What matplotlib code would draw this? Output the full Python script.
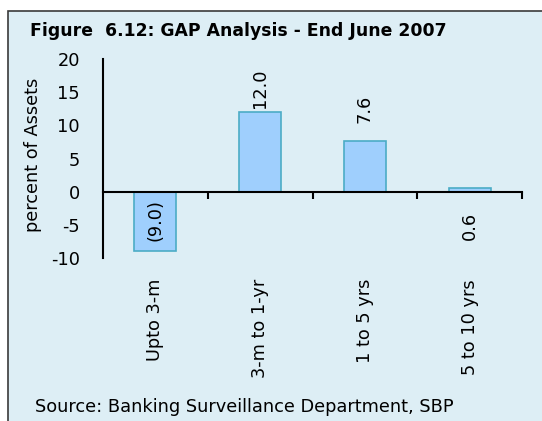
import matplotlib
matplotlib.use("Agg")
import matplotlib.pyplot as plt
from matplotlib.patches import Rectangle
import matplotlib.transforms as mtransforms

plt.rcParams["font.family"] = ["DejaVu Sans"]
plt.rcParams["axes.unicode_minus"] = False

categories = ["Upto 3-m", "3-m to 1-yr", "1 to 5 yrs", "5 to 10 yrs"]
gap_pct = [-9.0, 12.0, 7.6, 0.6]
value_labels = ["(9.0)", "12.0", "7.6", "0.6"]

BG = "#ddeef5"
BAR = "#9fcffd"
EDGE = "#4bacc6"
FS = 12.8

# where each rotated value label sits, relative to its bar value (data units)
label_shift = [4.7, 3.6, 4.9, -5.75]

fig = plt.figure(figsize=(5.42, 4.21), dpi=100)
fig.patch.set_facecolor("white")

# light-blue panel with dark border, starting a bit below the top edge
fig.add_artist(Rectangle((8 / 542, -0.05), 1.0, 1 - 11 / 421 + 0.05,
                         transform=fig.transFigure, facecolor=BG,
                         edgecolor="#3a3a3a", linewidth=1.2, zorder=-5))

fig.text(30 / 542, 1 - 31 / 421, "Figure  6.12: GAP Analysis - End June 2007",
         fontsize=12.4, fontweight="bold", va="center", ha="left")

ax = fig.add_axes([103 / 542, 1 - 258 / 421, 419 / 542, 199 / 421])
ax.set_facecolor("none")
ax.set_zorder(2)

x = list(range(len(categories)))
ax.bar(x, gap_pct, width=0.4, color=BAR, edgecolor=EDGE, linewidth=1.2,
       zorder=2)

ax.set_xlim(-0.5, len(categories) - 0.5)
ax.set_ylim(-10, 20)
ax.set_yticks([-10, -5, 0, 5, 10, 15, 20])
ax.tick_params(axis="y", length=0, labelsize=FS, pad=16.5)

for s in ["top", "right"]:
    ax.spines[s].set_visible(False)
ax.spines["bottom"].set_position(("data", 0))
ax.spines["bottom"].set_linewidth(1.5)
ax.spines["left"].set_linewidth(1.5)
ax.spines["bottom"].set_zorder(3)

ax.set_xticks([i + 0.5 for i in x])
ax.set_xticklabels([])
ax.tick_params(axis="x", direction="out", length=5, width=1.5)

ax.set_ylabel("percent of Assets", fontsize=FS)
ax.yaxis.set_label_coords(-61 / 419, 0.52)

# value labels, rotated
for xi, v, lab, sh in zip(x, gap_pct, value_labels, label_shift):
    ax.text(xi, v + sh, lab, rotation=90, ha="center", va="center",
            fontsize=FS)

# category labels at the bottom of the plot area
trans = mtransforms.blended_transform_factory(ax.transData, ax.transAxes)
for xi, c in zip(x, categories):
    ax.text(xi, -0.105, c, rotation=90, ha="center", va="top",
            fontsize=FS, transform=trans)

fig.text(35 / 542, 1 - 407 / 421,
         "Source: Banking Surveillance Department, SBP",
         fontsize=FS, va="center", ha="left")

fig.savefig("out.png", dpi=100, facecolor=fig.get_facecolor())
